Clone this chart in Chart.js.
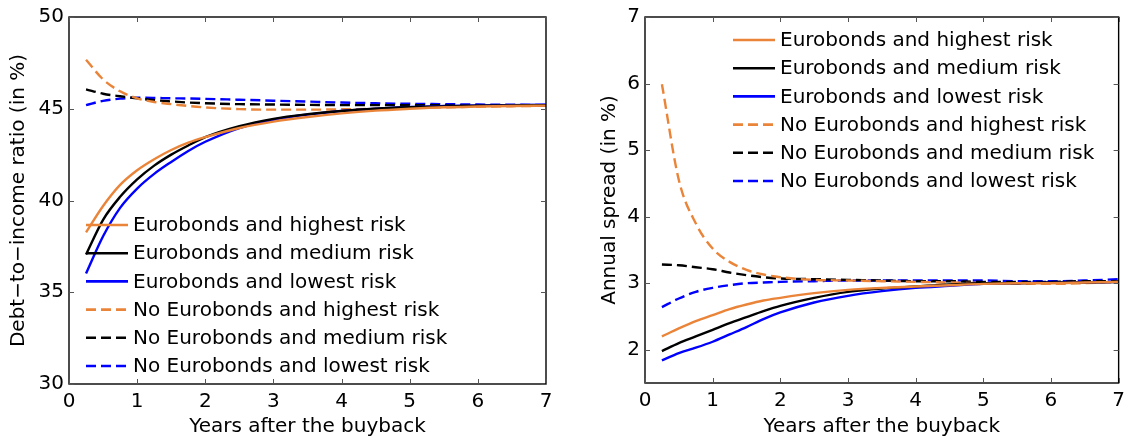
<!DOCTYPE html>
<html>
<head>
<meta charset="utf-8">
<script src="https://cdn.jsdelivr.net/npm/chart.js@4.4.1/dist/chart.umd.min.js"></script>
<style>
  html, body { margin: 0; padding: 0; background: #fff; }
  .panel { position: absolute; top: 0; height: 442px; }
  #left { left: 0; width: 565px; }
  #right { left: 565px; width: 566px; }
</style>
</head>
<body>
<div class="panel" id="left"><canvas id="debtChart"></canvas></div>
<div class="panel" id="right"><canvas id="spreadChart"></canvas></div>
<script>
// years after the buyback (shared x values)
const years = [0.25, 0.5, 0.75, 1, 1.25, 1.5, 1.75, 2, 2.5, 3, 3.5, 4, 4.5, 5, 5.5, 6, 6.5, 7];
const xTicks = [0, 1, 2, 3, 4, 5, 6, 7];

const seriesNames = [
  'Eurobonds and highest risk',
  'Eurobonds and medium risk',
  'Eurobonds and lowest risk',
  'No Eurobonds and highest risk',
  'No Eurobonds and medium risk',
  'No Eurobonds and lowest risk'
];

// left panel: debt-to-income ratio (in %)
const debtEuroHigh = [38.26, 39.7, 40.85, 41.65, 42.25, 42.75, 43.15, 43.45, 43.95, 44.3, 44.55, 44.75, 44.9, 45.0, 45.08, 45.12, 45.15, 45.17];
const debtEuroMed  = [37.06, 38.95, 40.2, 41.15, 41.9, 42.5, 43.0, 43.45, 44.05, 44.45, 44.7, 44.88, 45.0, 45.08, 45.13, 45.16, 45.18, 45.2];
const debtEuroLow  = [36.02, 38.05, 39.6, 40.65, 41.45, 42.1, 42.7, 43.2, 43.95, 44.4, 44.68, 44.88, 45.0, 45.1, 45.15, 45.18, 45.2, 45.22];
const debtNoHigh   = [47.67, 46.6, 45.95, 45.57, 45.37, 45.25, 45.15, 45.07, 44.98, 44.95, 44.95, 44.97, 45.0, 45.04, 45.08, 45.11, 45.14, 45.16];
const debtNoMed    = [46.06, 45.82, 45.68, 45.57, 45.47, 45.4, 45.34, 45.3, 45.25, 45.23, 45.21, 45.2, 45.2, 45.2, 45.2, 45.2, 45.2, 45.2];
const debtNoLow    = [45.2, 45.43, 45.55, 45.6, 45.59, 45.57, 45.56, 45.54, 45.49, 45.44, 45.39, 45.34, 45.3, 45.27, 45.25, 45.23, 45.22, 45.2];
const debtTicks = [30, 35, 40, 45, 50];

// right panel: annual spread (in %)
const spreadEuroHigh = [2.2, 2.32, 2.43, 2.52, 2.61, 2.68, 2.74, 2.78, 2.85, 2.9, 2.93, 2.95, 2.97, 2.99, 3.0, 3.0, 3.01, 3.02];
const spreadEuroMed  = [1.98, 2.1, 2.2, 2.3, 2.4, 2.49, 2.58, 2.66, 2.78, 2.87, 2.92, 2.95, 2.98, 3.0, 3.0, 3.01, 3.01, 3.02];
const spreadEuroLow  = [1.84, 1.95, 2.03, 2.12, 2.23, 2.34, 2.46, 2.56, 2.71, 2.81, 2.88, 2.93, 2.96, 2.99, 3.0, 3.01, 3.01, 3.02];
const spreadNoHigh   = [5.99, 4.55, 3.9, 3.52, 3.32, 3.2, 3.13, 3.09, 3.05, 3.04, 3.03, 3.02, 3.01, 3.0, 2.99, 2.99, 3.0, 3.02];
const spreadNoMed    = [3.28, 3.27, 3.24, 3.21, 3.16, 3.12, 3.09, 3.07, 3.06, 3.05, 3.04, 3.03, 3.03, 3.02, 3.02, 3.02, 3.03, 3.03];
const spreadNoLow    = [2.64, 2.77, 2.87, 2.93, 2.97, 3.0, 3.01, 3.02, 3.03, 3.04, 3.04, 3.04, 3.04, 3.04, 3.03, 3.03, 3.04, 3.06];
const spreadTicks = [2, 3, 4, 5, 6, 7];

const ORANGE = '#EA8439';
const colors = [ORANGE, '#000000', '#0000FF', ORANGE, '#000000', '#0000FF'];
const FONT = '"DejaVu Sans", "Liberation Sans", Arial, sans-serif';

Chart.defaults.font.family = FONT;
Chart.defaults.font.size = 20;
Chart.defaults.color = '#000';

function makeDatasets(list) {
  return list.map((vals, i) => ({
    label: seriesNames[i],
    data: vals.map((v, j) => ({ x: years[j], y: v })),
    borderColor: colors[i],
    borderWidth: 2.4,
    borderDash: i >= 3 ? [10, 5] : [],
    pointRadius: 0,
    fill: false,
    cubicInterpolationMode: 'monotone'
  }));
}

/**
 * Box frame with inward tick marks on all four sides
 */
const boxFrame = {
  id: 'boxFrame',
  afterDatasetsDraw(chart) {
    const { ctx, chartArea: a, scales } = chart;
    ctx.save();
    ctx.strokeStyle = '#000';
    ctx.lineWidth = 1.4;
    ctx.strokeRect(a.left, a.top, a.right - a.left, a.bottom - a.top);
    ctx.strokeStyle = '#555';
    ctx.lineWidth = 1;
    const len = 5;
    scales.x.ticks.forEach(t => {
      const px = Math.round(scales.x.getPixelForValue(t.value)) + 0.5;
      ctx.beginPath();
      ctx.moveTo(px, a.bottom); ctx.lineTo(px, a.bottom - len);
      ctx.moveTo(px, a.top); ctx.lineTo(px, a.top + len);
      ctx.stroke();
    });
    scales.y.ticks.forEach(t => {
      const py = Math.round(scales.y.getPixelForValue(t.value)) + 0.5;
      ctx.beginPath();
      ctx.moveTo(a.left, py); ctx.lineTo(a.left + len, py);
      ctx.moveTo(a.right, py); ctx.lineTo(a.right - len, py);
      ctx.stroke();
    });
    ctx.restore();
  }
};

/**
 * Legend drawn inside the plot area (no box)
 */
const innerLegend = {
  id: 'innerLegend',
  afterDatasetsDraw(chart, args, opts) {
    const { ctx, chartArea: a } = chart;
    ctx.save();
    ctx.font = '20px ' + FONT;
    ctx.textBaseline = 'middle';
    ctx.textAlign = 'left';
    chart.data.datasets.forEach((ds, i) => {
      const y = a.top + opts.y + i * opts.step;
      const x = a.left + opts.x;
      ctx.strokeStyle = ds.borderColor;
      ctx.lineWidth = 2.6;
      ctx.setLineDash(ds.borderDash);
      ctx.beginPath();
      ctx.moveTo(x, y); ctx.lineTo(x + 42, y);
      ctx.stroke();
      ctx.setLineDash([]);
      ctx.fillStyle = '#000';
      ctx.fillText(ds.label, x + 47, y + 1);
    });
    ctx.restore();
  }
};

function makeChart(canvas, datasets, yMin, yMax, yTicks, yTitle, opts) {
  return new Chart(canvas.getContext('2d'), {
    type: 'line',
    data: { datasets },
    plugins: [boxFrame, innerLegend],
    options: {
      responsive: true,
      maintainAspectRatio: false,
      animation: false,
      layout: { padding: { top: 12, right: opts.padRight, bottom: 0, left: 0 } },
      plugins: {
        legend: { display: false },
        tooltip: { enabled: false },
        innerLegend: opts.legend
      },
      scales: {
        x: {
          type: 'linear',
          min: 0,
          max: 7,
          afterBuildTicks: s => { s.ticks = xTicks.map(v => ({ value: v })); },
          afterFit: s => { s.height = opts.xHeight; },
          grid: { display: false, drawTicks: false },
          border: { display: false },
          ticks: { padding: 6, color: '#000', font: { size: 20 } },
          title: {
            display: true,
            text: 'Years after the buyback',
            color: '#000',
            font: { size: 20 },
            padding: { top: 0, bottom: 3 }
          }
        },
        y: {
          min: yMin,
          max: yMax,
          afterBuildTicks: s => { s.ticks = yTicks.map(v => ({ value: v })); },
          afterFit: s => { s.width = opts.yWidth; },
          grid: { display: false, drawTicks: false },
          border: { display: false },
          ticks: { padding: 5, color: '#000', font: { size: 20 } },
          title: {
            display: true,
            text: yTitle,
            color: '#000',
            font: { size: 20 },
            padding: { top: opts.yTitlePad, bottom: 0 }
          }
        }
      }
    }
  });
}

makeChart(
  document.getElementById('debtChart'),
  makeDatasets([debtEuroHigh, debtEuroMed, debtEuroLow, debtNoHigh, debtNoMed, debtNoLow]),
  30, 50, debtTicks, 'Debt\u2212to\u2212income ratio (in %)',
  { padRight: 19, xHeight: 58, yWidth: 69, yTitlePad: 7, legend: { x: 17, y: 208, step: 28.2 } }
);

makeChart(
  document.getElementById('spreadChart'),
  makeDatasets([spreadEuroHigh, spreadEuroMed, spreadEuroLow, spreadNoHigh, spreadNoMed, spreadNoLow]),
  1.5, 7, spreadTicks, 'Annual spread (in %)',
  { padRight: 9, xHeight: 59, yWidth: 80, yTitlePad: 33, legend: { x: 88, y: 23, step: 28.2 } }
);
</script>
</body>
</html>
